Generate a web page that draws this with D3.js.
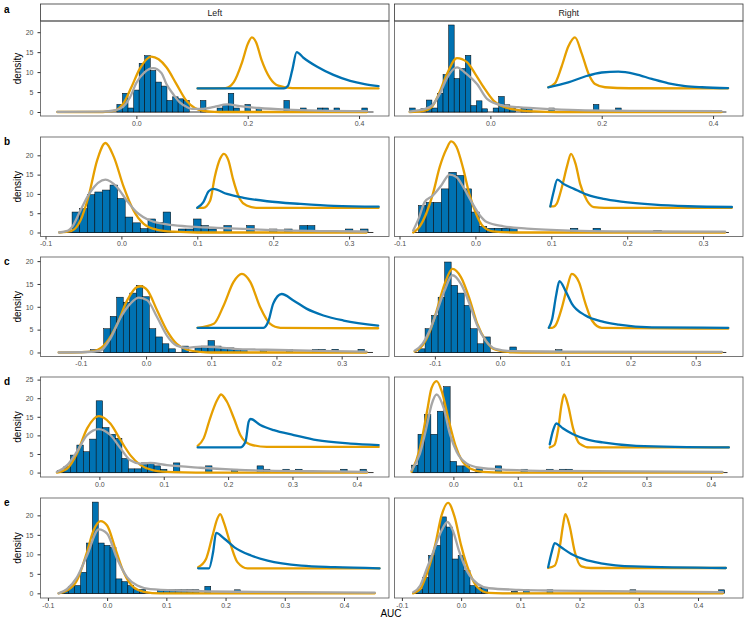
<!DOCTYPE html>
<html>
<head>
<meta charset="utf-8">
<script src="https://cdn.jsdelivr.net/npm/d3@7"></script>
<style>
  body { margin: 0; background: #fff; }
  text { font-family: "Liberation Sans", Arial, sans-serif; }
</style>
</head>
<body>
<svg id="chart" width="750" height="625"></svg>
<script>
// histogram bins: [bin centre, density], bin width 0.01
const binWidth = 0.01;

// ---- row a ----
const aL_bins = [[-0.03,1.9],[-0.02,4.7],[-0.01,1],[0,5.5],[0.01,12.2],[0.02,14.1],[0.03,10.4],[0.04,7.5],[0.05,6.5],[0.06,2.9],[0.07,3.8],[0.08,3.3],[0.09,2.9],[0.12,2.9],[0.15,1],[0.16,1.9],[0.17,4.7],[0.18,1],[0.2,1.9],[0.22,1],[0.27,2.9],[0.3,1],[0.33,1],[0.34,1],[0.36,1],[0.41,1]];
const aL_gray = [[-0.142,0.05],[-0.06,0.1],[-0.04,0.4],[-0.024,1.3],[-0.012,3.5],[0,7.3],[0.015,10],[0.03,11],[0.045,9.8],[0.054,7.0],[0.066,4.5],[0.078,2.4],[0.09,1.3],[0.1,0.8],[0.12,0.8],[0.14,1.3],[0.163,1.9],[0.19,1.4],[0.22,1.0],[0.27,0.6],[0.33,0.35],[0.414,0.2]];
const aL_orange = [[-0.142,0],[-0.06,0],[-0.045,0.2],[-0.036,0.5],[-0.024,2.0],[-0.009,6.2],[0.006,10.8],[0.027,13.9],[0.04,13.2],[0.054,11.2],[0.072,7.0],[0.09,2.8],[0.105,1.0],[0.12,0.3],[0.14,0.05],[0.16,0],[0.414,0]];
const aL_insetOrange = [[0.11,5.9],[0.16,6.0],[0.175,7.5],[0.19,12.5],[0.2,17],[0.2075,18.7],[0.215,17.5],[0.225,13],[0.24,8.5],[0.255,6.6],[0.28,6.0],[0.435,5.9]];
const aL_insetBlue = [[0.11,5.9],[0.265,5.9],[0.272,6.5],[0.28,10.5],[0.288,15],[0.30,13.6],[0.324,11.4],[0.354,9.3],[0.384,7.8],[0.41,7.0],[0.435,6.5]];
const aL_range = [-0.142, 0.426];

const aR_bins = [[-0.14,1],[-0.12,0.8],[-0.11,3],[-0.1,1],[-0.09,4.7],[-0.08,9.4],[-0.07,21.8],[-0.06,8.4],[-0.05,10.9],[-0.04,14.2],[-0.03,1.6],[-0.02,2.8],[-0.01,0.8],[0.01,1],[0.02,3.9],[0.03,1.8],[0.04,1],[0.06,1],[0.07,1],[0.11,1],[0.19,1.9],[0.23,1]];
const aR_gray = [[-0.145,0.1],[-0.13,0.4],[-0.117,0.8],[-0.105,1.6],[-0.09,4.8],[-0.078,8.5],[-0.06,11.2],[-0.045,9.8],[-0.024,7.0],[-0.006,3.3],[0.02,1.7],[0.05,1.2],[0.11,0.7],[0.17,0.4],[0.25,0.3],[0.415,0.2]];
const aR_orange = [[-0.145,0],[-0.12,0.3],[-0.105,1.3],[-0.093,4.4],[-0.078,9.5],[-0.06,13.5],[-0.042,12.5],[-0.027,9.5],[-0.012,6.2],[0.006,2.8],[0.02,1.5],[0.05,0.5],[0.08,0.15],[0.12,0],[0.415,0]];
const aR_insetOrange = [[0.104,6.2],[0.116,7.2],[0.128,11.4],[0.14,16.4],[0.152,18.7],[0.164,14.7],[0.176,9.7],[0.188,7],[0.206,6.2],[0.25,5.95],[0.427,5.9]];
const aR_insetBlue = [[0.104,6.2],[0.14,7.4],[0.17,8.9],[0.2,9.9],[0.23,10.1],[0.26,9.5],[0.29,8.3],[0.32,7.2],[0.35,6.5],[0.38,6.2],[0.427,6.0]];
const aR_range = [-0.145, 0.424];

// ---- row b ----
const bL_bins = [[-0.06,5.3],[-0.05,6.2],[-0.04,9.8],[-0.03,10.5],[-0.02,11],[-0.01,12.3],[0,8.8],[0.01,4],[0.02,2.5],[0.03,1],[0.04,3.5],[0.05,2.6],[0.06,5.3],[0.08,0.9],[0.09,0.9],[0.1,3.5],[0.11,1.8],[0.12,0.9],[0.14,1.8],[0.17,1.8],[0.2,0.9],[0.22,0.9],[0.24,1.8],[0.25,1.8],[0.3,0.9],[0.32,0.9]];
const bL_gray = [[-0.082,0],[-0.07,0.5],[-0.065,1.4],[-0.054,5.7],[-0.041,10.5],[-0.021,13.7],[-0.006,11.8],[0.007,8.3],[0.02,5.3],[0.038,3.1],[0.06,2.1],[0.086,1.6],[0.126,1.2],[0.19,0.7],[0.28,0.35],[0.323,0.25]];
const bL_orange = [[-0.082,0],[-0.065,0.5],[-0.054,3.1],[-0.043,9.6],[-0.032,18.7],[-0.021,23.2],[-0.01,19.6],[0.003,11.8],[0.016,5.7],[0.029,2.3],[0.047,0.7],[0.069,0.2],[0.1,0],[0.323,0]];
const bL_insetOrange = [[0.1,6.4],[0.108,6.4],[0.117,8.3],[0.123,14.4],[0.13,19.1],[0.135,20.4],[0.141,18.7],[0.147,13.9],[0.156,8.7],[0.165,7],[0.178,6.4],[0.339,6.4]];
const bL_insetBlue = [[0.1,6.4],[0.108,7.9],[0.115,10.7],[0.121,11.3],[0.139,10],[0.161,9],[0.192,8.1],[0.236,7.4],[0.28,6.9],[0.339,6.7]];
const bL_range = [-0.082, 0.332];

const bR_bins = [[-0.07,7],[-0.06,7.8],[-0.05,7.8],[-0.04,11.3],[-0.03,15.6],[-0.02,14.8],[-0.01,11.3],[0,5.3],[0.01,1.6],[0.02,1.1],[0.03,1.1],[0.04,1.1],[0.05,1.1],[0.13,1.1],[0.16,1.1],[0.24,0.5]];
const bR_gray = [[-0.082,0.5],[-0.074,4],[-0.067,7.9],[-0.056,9.6],[-0.045,12.2],[-0.034,15],[-0.025,14.4],[-0.016,11.8],[-0.005,7.9],[0.006,4.4],[0.015,2.7],[0.037,1.6],[0.068,1],[0.125,0.5],[0.2,0.3],[0.329,0.2]];
const bR_orange = [[-0.082,0],[-0.074,1.4],[-0.065,4.8],[-0.056,10],[-0.047,17],[-0.038,21.7],[-0.032,23.6],[-0.025,22.2],[-0.016,16.5],[-0.008,10],[0.001,4.8],[0.01,1.6],[0.023,0.3],[0.05,0],[0.329,0]];
const bR_insetOrange = [[0.0987,6.75],[0.103,6.75],[0.107,7.4],[0.114,11.8],[0.121,17.4],[0.126,20.4],[0.132,17.8],[0.138,12.6],[0.147,8.3],[0.156,6.6],[0.17,6.4],[0.338,6.4]];
const bR_insetBlue = [[0.0987,6.75],[0.103,10.5],[0.108,13.7],[0.116,12.6],[0.13,11.3],[0.147,9.8],[0.169,8.7],[0.192,8],[0.236,7.2],[0.28,6.8],[0.338,6.6]];
const bR_range = [-0.082, 0.334];

// ---- row c ----
const cL_bins = [[-0.08,0.6],[-0.06,5.2],[-0.05,7.9],[-0.04,12.1],[-0.03,11],[-0.02,13],[-0.01,14.7],[0,12.2],[0.01,5.2],[0.02,3.4],[0.03,1.9],[0.04,0.8],[0.06,1.4],[0.08,1],[0.09,1.4],[0.1,2.6],[0.11,1.4],[0.12,1],[0.13,1],[0.14,0.7],[0.15,0.7],[0.18,0.7],[0.22,0.7],[0.26,0.7],[0.27,0.7],[0.29,0.7],[0.33,0.7]];
const cL_gray = [[-0.134,0],[-0.09,0.1],[-0.07,0.4],[-0.055,3],[-0.039,7.7],[-0.024,10.7],[-0.011,12],[0.002,11.4],[0.017,7.7],[0.032,3.7],[0.047,1.5],[0.063,1.0],[0.083,1.3],[0.104,1.2],[0.134,0.8],[0.185,0.6],[0.287,0.3],[0.338,0.2]];
const cL_orange = [[-0.134,0],[-0.1,0.05],[-0.08,0.3],[-0.06,2.3],[-0.044,6.3],[-0.029,11.4],[-0.014,14.3],[-0.008,14.5],[0.002,13.6],[0.017,9.2],[0.032,4.8],[0.047,1.9],[0.063,0.6],[0.083,0.15],[0.1,0],[0.338,0]];
const cL_insetOrange = [[0.079,5.4],[0.104,6.3],[0.119,10.3],[0.134,15.4],[0.147,17.2],[0.16,15.4],[0.175,9.9],[0.19,6.3],[0.206,5.4],[0.356,5.3]];
const cL_insetBlue = [[0.079,5.4],[0.18,5.4],[0.188,7],[0.195,10.7],[0.208,12.8],[0.226,11.4],[0.246,9.6],[0.272,8.1],[0.303,7],[0.356,5.9]];
const cL_range = [-0.134, 0.348];

const cR_bins = [[-0.12,0.8],[-0.11,5.2],[-0.1,8.1],[-0.09,12.1],[-0.08,19.8],[-0.07,14.7],[-0.06,13],[-0.05,10.3],[-0.04,5.2],[-0.03,1.9],[-0.02,3.4],[0.02,1.2],[0.09,0.6]];
const cR_gray = [[-0.131,0.4],[-0.119,1.9],[-0.108,4.8],[-0.098,8.5],[-0.085,13.6],[-0.073,16.9],[-0.06,15],[-0.047,10.7],[-0.035,5.9],[-0.022,2.6],[-0.007,0.8],[0.019,0.3],[0.1,0.2],[0.34,0.15]];
const cR_orange = [[-0.131,0.2],[-0.119,1.5],[-0.108,4.5],[-0.098,8.8],[-0.085,15],[-0.073,18.3],[-0.06,16.5],[-0.047,11.8],[-0.035,6.3],[-0.022,2.6],[-0.007,0.6],[0.019,0.05],[0.05,0],[0.34,0]];
const cR_insetOrange = [[0.0748,5.4],[0.08,5.4],[0.085,5.9],[0.095,9.9],[0.103,14.3],[0.11,17.2],[0.121,15.4],[0.131,10.7],[0.141,7],[0.156,5.4],[0.35,5.2]];
const cR_insetBlue = [[0.0748,5.4],[0.08,7.4],[0.086,12.5],[0.091,15.6],[0.1,13.6],[0.11,10.7],[0.131,8.1],[0.156,6.8],[0.182,6.1],[0.233,5.5],[0.35,5.4]];
const cR_range = [-0.131, 0.347];

// ---- row d ----
const dL_bins = [[-0.06,0.6],[-0.05,1.6],[-0.04,4.7],[-0.03,7.4],[-0.02,5.6],[-0.01,9],[0,19.3],[0.01,12.1],[0.02,10.3],[0.03,9.2],[0.04,3.8],[0.05,1],[0.06,1],[0.07,2.6],[0.08,2.6],[0.09,1.8],[0.1,0.9],[0.12,2.6],[0.17,1.8],[0.21,0.9],[0.25,1.8],[0.26,0.9],[0.29,0.9],[0.31,0.9],[0.38,0.9],[0.41,0.9]];
const dL_gray = [[-0.066,0.2],[-0.05,2],[-0.035,5.6],[-0.019,10.1],[-0.001,11.7],[0.017,10.1],[0.033,6.5],[0.048,3.3],[0.064,2.4],[0.079,2.6],[0.105,2],[0.157,1.3],[0.209,0.8],[0.26,0.5],[0.364,0.3],[0.416,0.2]];
const dL_orange = [[-0.066,0],[-0.05,1.1],[-0.035,5.1],[-0.019,11.9],[-0.001,15.2],[0.017,13.2],[0.033,8.7],[0.048,4.7],[0.064,2],[0.084,0.6],[0.115,0.1],[0.15,0],[0.416,0]];
const dL_insetOrange = [[0.1527,7.2],[0.162,9.2],[0.172,14.6],[0.183,19.5],[0.189,21],[0.198,19.1],[0.209,14.6],[0.219,10.1],[0.234,7.6],[0.26,6.9],[0.434,6.9]];
const dL_insetBlue = [[0.1527,6.75],[0.219,6.75],[0.227,8.3],[0.232,13.7],[0.235,14.4],[0.25,12.8],[0.271,11.4],[0.302,10.1],[0.338,8.7],[0.39,7.8],[0.434,7.4]];
const dL_range = [-0.066, 0.426];

const dR_bins = [[-0.06,2],[-0.05,10.3],[-0.04,15.6],[-0.03,10.3],[-0.02,16.5],[-0.01,23.1],[0,3],[0.01,1.8],[0.02,1.8],[0.04,1],[0.07,1.8],[0.11,0.9],[0.15,0.9],[0.17,0.9],[0.18,0.9]];
const dR_gray = [[-0.065,0.6],[-0.052,5.1],[-0.041,12.8],[-0.034,18.2],[-0.026,21],[-0.015,17.3],[-0.005,10.1],[0.005,5.6],[0.021,2.4],[0.041,1.3],[0.077,0.8],[0.155,0.45],[0.418,0.2]];
const dR_orange = [[-0.065,0.2],[-0.052,6.5],[-0.041,16.4],[-0.034,22.7],[-0.026,24.6],[-0.018,21.8],[-0.008,14.6],[0.003,7.4],[0.013,3.3],[0.026,1.1],[0.046,0.2],[0.08,0],[0.418,0]];
const dR_insetOrange = [[0.1497,6.75],[0.157,7.4],[0.163,11.9],[0.168,18.2],[0.172,21],[0.178,18.2],[0.186,11.9],[0.196,7.8],[0.212,6.75],[0.428,6.75]];
const dR_insetBlue = [[0.1497,7.6],[0.155,11.4],[0.16,13.2],[0.17,11.9],[0.186,10.3],[0.206,9],[0.232,8.1],[0.284,7.2],[0.428,6.75]];
const dR_range = [-0.065, 0.426];

// ---- row e ----
const eL_bins = [[-0.07,0.5],[-0.06,1.8],[-0.05,2],[-0.04,5.4],[-0.03,12.9],[-0.02,23.4],[-0.01,12.9],[0,12.3],[0.01,11.7],[0.02,3.7],[0.03,3],[0.04,2],[0.05,1],[0.06,1],[0.09,0.9],[0.1,0.9],[0.11,0.9],[0.12,0.9],[0.13,0.9],[0.14,0.9],[0.15,0.9],[0.17,1.8],[0.22,0.9]];
const eL_gray = [[-0.082,0],[-0.068,1.1],[-0.051,4.1],[-0.034,9.7],[-0.014,16.4],[0,15.3],[0.017,8.8],[0.034,4.1],[0.051,2],[0.073,1.1],[0.13,0.7],[0.215,0.4],[0.452,0.2]];
const eL_orange = [[-0.082,0],[-0.068,0.7],[-0.051,3.3],[-0.034,10.6],[-0.023,16.1],[-0.011,18.5],[0,17.4],[0.014,11.4],[0.028,5.4],[0.045,1.5],[0.062,0.4],[0.09,0],[0.452,0]];
const eL_insetOrange = [[0.1537,6.7],[0.167,8.8],[0.178,14.8],[0.186,19.1],[0.191,20.3],[0.197,18.2],[0.209,12.3],[0.22,8],[0.237,6.4],[0.46,6.4]];
const eL_insetBlue = [[0.1537,6.4],[0.172,6.4],[0.179,10.6],[0.184,15.5],[0.198,14],[0.215,11.8],[0.243,9.7],[0.271,8.4],[0.328,7.1],[0.384,6.7],[0.46,6.4]];
const eL_range = [-0.082, 0.452];

const eR_bins = [[-0.07,1],[-0.06,4.1],[-0.05,9.7],[-0.04,12.3],[-0.03,19.6],[-0.02,17],[-0.01,8.8],[0,9.7],[0.01,5.8],[0.02,2],[0.03,1.5],[0.04,1.5],[0.09,0.5],[0.11,0.9],[0.15,0.9],[0.29,0.9],[0.44,0.9]];
const eR_gray = [[-0.081,0.3],[-0.069,2],[-0.058,6.3],[-0.047,10.6],[-0.033,16.1],[-0.023,18.3],[-0.014,16.1],[-0.003,10.6],[0.011,5.4],[0.028,2.4],[0.047,1.3],[0.097,0.9],[0.153,0.7],[0.442,0.3]];
const eR_orange = [[-0.081,0],[-0.069,1.1],[-0.058,5],[-0.044,12.3],[-0.033,20],[-0.022,23.2],[-0.011,19.6],[0,12.3],[0.014,5.4],[0.028,1.5],[0.047,0.1],[0.07,0],[0.442,0]];
const eR_insetOrange = [[0.147,6.5],[0.158,7.1],[0.167,12.3],[0.172,17.4],[0.176,20.3],[0.183,17.4],[0.192,10.6],[0.203,6.9],[0.219,6.5],[0.447,6.5]];
const eR_insetBlue = [[0.147,6.7],[0.153,10.6],[0.158,12.9],[0.169,11.8],[0.186,10.1],[0.208,8.7],[0.236,7.7],[0.292,6.9],[0.447,6.5]];
const eR_range = [-0.081, 0.444];

// axis ticks per row
const rowLetters = ["a", "b", "c", "d", "e"];
const sideLabels = ["Left", "Right"];
const xTicksByRow = [[0, 0.2, 0.4], [-0.1, 0, 0.1, 0.2, 0.3], [-0.1, 0, 0.1, 0.2, 0.3], [0, 0.1, 0.2, 0.3, 0.4], [-0.1, 0, 0.1, 0.2, 0.3, 0.4]];
const yTicksByRow = [[0, 5, 10, 15, 20], [0, 5, 10, 15, 20], [0, 5, 10, 15, 20], [0, 5, 10, 15, 20, 25], [0, 5, 10, 15, 20]];
const xDomains = [[-0.1722, 0.4538], [-0.1066, 0.3526], [-0.1619, 0.3726], [-0.0915, 0.45], [-0.1125, 0.476]];
const yDomains = [[-1.0, 22.8], [-1.04, 24.75], [-0.88, 20.9], [-1.19, 25.7], [-1.2, 24.45]];

const panels = [
  [aL_bins, aL_gray, aL_orange, aL_insetOrange, aL_insetBlue, aL_range],
  [aR_bins, aR_gray, aR_orange, aR_insetOrange, aR_insetBlue, aR_range],
  [bL_bins, bL_gray, bL_orange, bL_insetOrange, bL_insetBlue, bL_range],
  [bR_bins, bR_gray, bR_orange, bR_insetOrange, bR_insetBlue, bR_range],
  [cL_bins, cL_gray, cL_orange, cL_insetOrange, cL_insetBlue, cL_range],
  [cR_bins, cR_gray, cR_orange, cR_insetOrange, cR_insetBlue, cR_range],
  [dL_bins, dL_gray, dL_orange, dL_insetOrange, dL_insetBlue, dL_range],
  [dR_bins, dR_gray, dR_orange, dR_insetOrange, dR_insetBlue, dR_range],
  [eL_bins, eL_gray, eL_orange, eL_insetOrange, eL_insetBlue, eL_range],
  [eR_bins, eR_gray, eR_orange, eR_insetOrange, eR_insetBlue, eR_range]
];

// layout
const colX = [[40.5, 389], [394.5, 743]];
const rowY = [[21, 116], [137, 236.5], [257, 356.5], [377, 477], [498, 598]];
const blue = "#0072B2", orange = "#E69F00", grey = "#A6A6A6";

const svg = d3.select("#chart");

rowLetters.forEach((letter, r) => {
  const [top, bottom] = rowY[r];

  // row letter
  svg.append("text")
    .attr("x", 4).attr("y", r === 0 ? 13 : top + 8)
    .attr("font-size", 10).attr("font-weight", "bold")
    .text(letter);

  // y title
  svg.append("text")
    .attr("transform", "translate(21," + ((top + bottom) / 2) + ") rotate(-90)")
    .attr("text-anchor", "middle")
    .attr("font-size", 10)
    .text("density");

  [0, 1].forEach(c => {
    const [left, right] = colX[c];
    const [bins, gray, orng, inO, inB, range] = panels[r * 2 + c];

    const x = d3.scaleLinear().domain(xDomains[r]).range([left, right]);
    const y = d3.scaleLinear().domain(yDomains[r]).range([bottom, top]);

    const g = svg.append("g");

    // strip on the first row
    if (r === 0) {
      g.append("rect")
        .attr("x", left).attr("y", 4)
        .attr("width", right - left).attr("height", top - 4)
        .attr("fill", "#fff").attr("stroke", "#333").attr("stroke-width", 0.8);
      g.append("text")
        .attr("x", (left + right) / 2).attr("y", 15.5)
        .attr("text-anchor", "middle").attr("font-size", 8.8)
        .attr("fill", "#1a1a1a")
        .text(sideLabels[c]);
    }

    // zero-count bins show as a black baseline
    g.append("line")
      .attr("x1", x(range[0])).attr("x2", x(range[1]))
      .attr("y1", y(0)).attr("y2", y(0))
      .attr("stroke", "#000").attr("stroke-width", 0.8);

    // histogram bars
    g.selectAll(".bar")
      .data(bins)
      .enter().append("rect")
      .attr("class", "bar")
      .attr("x", d => x(d[0] - binWidth / 2))
      .attr("width", d => x(d[0] + binWidth / 2) - x(d[0] - binWidth / 2))
      .attr("y", d => y(d[1]))
      .attr("height", d => y(0) - y(d[1]))
      .attr("fill", blue)
      .attr("stroke", "#000")
      .attr("stroke-width", 0.5);

    const line = d3.line()
      .x(d => x(d[0]))
      .y(d => y(d[1]))
      .curve(d3.curveMonotoneX);

    [[orng, orange], [gray, grey], [inO, orange], [inB, blue]].forEach(([pts, col]) => {
      g.append("path")
        .datum(pts)
        .attr("d", line)
        .attr("fill", "none")
        .attr("stroke", col)
        .attr("stroke-width", 2.3)
        .attr("stroke-linejoin", "round")
        .attr("stroke-linecap", "round");
    });

    // panel border
    g.append("rect")
      .attr("x", left).attr("y", top)
      .attr("width", right - left).attr("height", bottom - top)
      .attr("fill", "none").attr("stroke", "#555").attr("stroke-width", 0.8);

    // x axis
    const xa = g.append("g")
      .attr("transform", "translate(0," + bottom + ")")
      .call(d3.axisBottom(x).tickValues(xTicksByRow[r]).tickFormat(d => d.toFixed(1)).tickSize(3).tickPadding(2));
    xa.select(".domain").remove();
    xa.selectAll("line").attr("stroke", "#333");
    xa.selectAll("text").attr("fill", "#4d4d4d").attr("font-size", 7)
      .attr("font-family", "Liberation Sans, Arial, sans-serif");

    // y axis only on the left column
    if (c === 0) {
      const ya = g.append("g")
        .attr("transform", "translate(" + left + ",0)")
        .call(d3.axisLeft(y).tickValues(yTicksByRow[r]).tickSize(3).tickPadding(4));
      ya.select(".domain").remove();
      ya.selectAll("line").attr("stroke", "#333");
      ya.selectAll("text").attr("fill", "#4d4d4d").attr("font-size", 7)
        .attr("font-family", "Liberation Sans, Arial, sans-serif");
    }
  });
});

// x title
svg.append("text")
  .attr("x", 391).attr("y", 617)
  .attr("text-anchor", "middle")
  .attr("font-size", 10)
  .text("AUC");
</script>
</body>
</html>
